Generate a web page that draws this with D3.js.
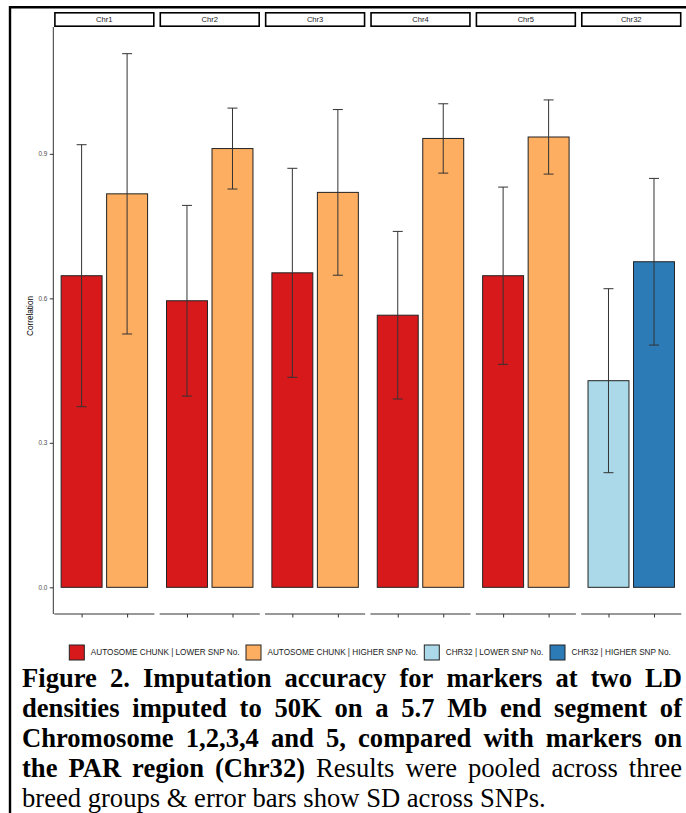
<!DOCTYPE html>
<html>
<head>
<meta charset="utf-8">
<script src="https://cdn.jsdelivr.net/npm/d3@7"></script>
<style>
  html, body { margin: 0; padding: 0; background: #fff; }
  svg { display: block; }
</style>
</head>
<body>
<svg id="chart" width="686" height="813"></svg>
<script>
// ---------------- data ----------------
const categories = ["Chr1", "Chr2", "Chr3", "Chr4", "Chr5", "Chr32"];
const groups = ["LOWER", "HIGHER"];
const lowerMean  = [0.647, 0.595, 0.653, 0.565, 0.647, 0.429];
const lowerSD    = [0.272, 0.198, 0.217, 0.174, 0.184, 0.191];
const higherMean = [0.817, 0.911, 0.820, 0.932, 0.935, 0.676];
const higherSD   = [0.291, 0.084, 0.172, 0.072, 0.077, 0.173];
const yTicks = [0.0, 0.3, 0.6, 0.9];
const legendLabels = ["AUTOSOME CHUNK | LOWER SNP No.", "AUTOSOME CHUNK | HIGHER SNP No.",
                      "CHR32 | LOWER SNP No.", "CHR32 | HIGHER SNP No."];
const legendColors = ["#D7191C", "#FDAE61", "#ABD9E9", "#2C7BB6"];
const yTitle = "Correlation";
const captionLines = [
  [{t: "Figure 2. Imputation accuracy for markers at two LD", b: true}],
  [{t: "densities imputed to 50K on a 5.7 Mb end segment of", b: true}],
  [{t: "Chromosome 1,2,3,4 and 5, compared with markers on", b: true}],
  [{t: "the PAR region (Chr32)", b: true}, {t: "Results were pooled across three", b: false}],
  [{t: "breed groups & error bars show SD across SNPs.", b: false}]
];

// build table
const rows = [];
categories.forEach((c, i) => {
  const auto = c !== "Chr32";
  rows.push({cat: c, grp: "LOWER", mean: lowerMean[i], sd: lowerSD[i],
             key: auto ? legendLabels[0] : legendLabels[2]});
  rows.push({cat: c, grp: "HIGHER", mean: higherMean[i], sd: higherSD[i],
             key: auto ? legendLabels[1] : legendLabels[3]});
});

// ---------------- layout ----------------
const svg = d3.select("#chart");
const panelTop = 27, panelBottom = 614;
const fill = d3.scaleOrdinal().domain(legendLabels).range(legendColors);

const fx = d3.scaleBand().domain(categories).range([54.3, 681.3]).paddingInner(0.05);
const xIn = d3.scalePoint().domain(groups).range([0, fx.bandwidth()]).padding(0.6);
const unit = xIn.step();

const maxV = d3.max(rows, d => d.mean + d.sd);
const minV = 0;
const ext = (maxV - minV) * 0.05;
const y = d3.scaleLinear().domain([minV - ext, maxV + ext]).range([panelBottom, panelTop]);

// outer frame (left and top black border)
svg.append("line").attr("x1", 10).attr("x2", 686).attr("y1", 7.3).attr("y2", 7.3)
  .attr("stroke", "#000").attr("stroke-width", 2.4);
svg.append("line").attr("x1", 10).attr("x2", 10).attr("y1", 6).attr("y2", 813)
  .attr("stroke", "#000").attr("stroke-width", 2.4);

// strips
categories.forEach(c => {
  const x0 = fx(c);
  svg.append("rect").attr("x", x0 + 0.6).attr("y", 12.8).attr("width", fx.bandwidth() - 1.2).attr("height", 13.4)
    .attr("fill", "#fff").attr("stroke", "#000").attr("stroke-width", 1.6);
  svg.append("text").attr("x", x0 + fx.bandwidth() / 2).attr("y", 19.6)
    .attr("text-anchor", "middle").attr("dominant-baseline", "central")
    .attr("font-family", "Liberation Sans, Arial, sans-serif").attr("font-size", 7.6)
    .attr("fill", "#1a1a1a").text(c);
});

// y axis
const yAxis = d3.axisLeft(y).tickValues(yTicks).tickFormat(d3.format(".1f")).tickSize(3.5).tickPadding(2.5);
const gy = svg.append("g").attr("transform", `translate(${fx(categories[0]) - 1},0)`).call(yAxis);
gy.select(".domain").attr("d", `M0,${panelTop}V${panelBottom}`).attr("stroke", "#333").attr("stroke-width", 1);
gy.selectAll(".tick line").attr("stroke", "#333");
gy.selectAll(".tick text").attr("fill", "#4d4d4d").attr("font-size", 6.4)
  .attr("font-family", "Liberation Sans, Arial, sans-serif");

svg.append("text").attr("transform", `translate(32.5,316) rotate(-90)`)
  .attr("text-anchor", "middle").attr("font-family", "Liberation Sans, Arial, sans-serif")
  .attr("font-size", 8.2).attr("fill", "#000").text(yTitle);

// panels
categories.forEach(c => {
  const g = svg.append("g").attr("transform", `translate(${fx(c)},0)`);
  const data = rows.filter(r => r.cat === c);
  const bw = unit * 0.9;
  g.selectAll("rect.bar").data(data).enter().append("rect").attr("class", "bar")
    .attr("x", d => xIn(d.grp) - bw / 2).attr("width", bw)
    .attr("y", d => y(d.mean)).attr("height", d => y(0) - y(d.mean))
    .attr("fill", d => fill(d.key)).attr("stroke", "#222").attr("stroke-width", 1);
  const cap = 10;
  const eb = g.selectAll("g.eb").data(data).enter().append("g").attr("class", "eb")
    .attr("stroke", "#333").attr("stroke-width", 1);
  eb.append("line").attr("x1", d => xIn(d.grp)).attr("x2", d => xIn(d.grp))
    .attr("y1", d => y(d.mean + d.sd)).attr("y2", d => y(d.mean - d.sd));
  eb.append("line").attr("x1", d => xIn(d.grp) - cap / 2).attr("x2", d => xIn(d.grp) + cap / 2)
    .attr("y1", d => y(d.mean + d.sd)).attr("y2", d => y(d.mean + d.sd));
  eb.append("line").attr("x1", d => xIn(d.grp) - cap / 2).attr("x2", d => xIn(d.grp) + cap / 2)
    .attr("y1", d => y(d.mean - d.sd)).attr("y2", d => y(d.mean - d.sd));

  // bottom axis per panel
  const xAxis = d3.axisBottom(xIn).tickSize(3.5).tickFormat("");
  const gx = g.append("g").attr("transform", `translate(0,${panelBottom})`).call(xAxis);
  gx.select(".domain").attr("d", `M0,0H${fx.bandwidth()}`).attr("stroke", "#333").attr("stroke-width", 1);
  gx.selectAll(".tick line").attr("stroke", "#333");
});

// legend
const legX = [69.3, 246, 424.3, 550];
const lg = svg.append("g");
legendLabels.forEach((lab, i) => {
  lg.append("rect").attr("x", legX[i]).attr("y", 645).attr("width", 15).attr("height", 15)
    .attr("fill", legendColors[i]).attr("stroke", "#222").attr("stroke-width", 1);
  lg.append("text").attr("x", legX[i] + 21.5).attr("y", 652.6).attr("dominant-baseline", "central")
    .attr("font-family", "Liberation Sans, Arial, sans-serif").attr("font-size", 8.2)
    .attr("fill", "#1a1a1a").text(lab);
});

// caption (justified)
const capLeft = 22, capRight = 682, capFont = 26.6;
const baselines = [686.5, 716.5, 746.5, 776.5, 806.5];
const measurer = svg.append("text").attr("font-family", "Liberation Serif, Times New Roman, serif")
  .attr("font-size", capFont).attr("visibility", "hidden");
function wordWidth(w, bold) {
  measurer.attr("font-weight", bold ? "bold" : "normal").text(w);
  return measurer.node().getComputedTextLength();
}
captionLines.forEach((segs, li) => {
  const words = [];
  segs.forEach(s => s.t.split(" ").forEach(w => words.push({w, b: s.b})));
  words.forEach(o => o.width = wordWidth(o.w, o.b));
  const total = d3.sum(words, o => o.width);
  const justify = li < captionLines.length - 1;
  const spaceW = wordWidth("a a", false) - 2 * wordWidth("a", false);
  const gap = justify ? (capRight - capLeft - total) / (words.length - 1) : spaceW;
  let x = capLeft;
  words.forEach(o => {
    svg.append("text").attr("x", x).attr("y", baselines[li])
      .attr("font-family", "Liberation Serif, Times New Roman, serif")
      .attr("font-size", capFont).attr("font-weight", o.b ? "bold" : "normal")
      .attr("fill", "#000").text(o.w);
    x += o.width + gap;
  });
});
measurer.remove();
</script>
</body>
</html>
